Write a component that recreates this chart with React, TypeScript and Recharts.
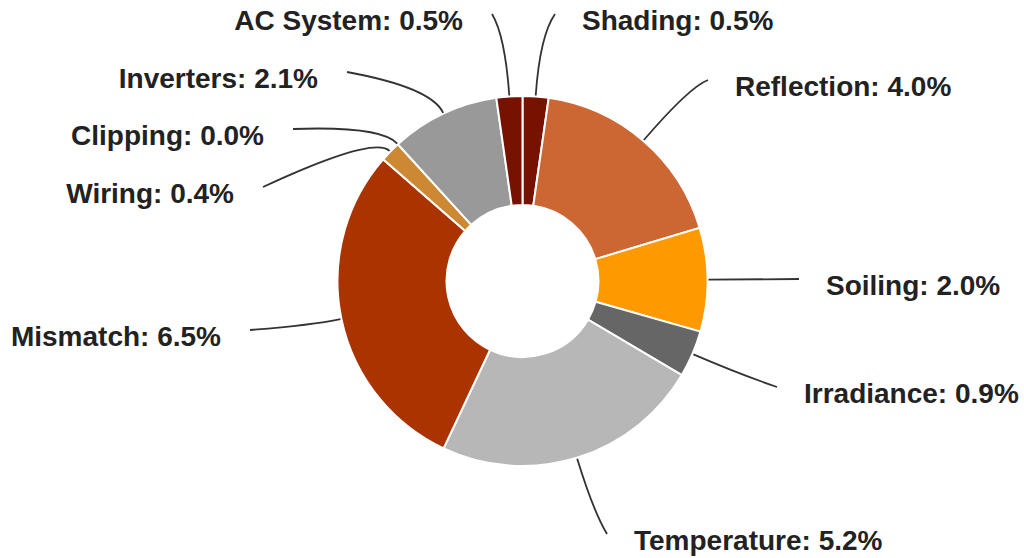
import { PieChart, Pie, Cell } from "recharts";

// Loss breakdown, clockwise from 12 o'clock
const CATEGORIES = [
  "Shading",
  "Reflection",
  "Soiling",
  "Irradiance",
  "Temperature",
  "Mismatch",
  "Wiring",
  "Clipping",
  "Inverters",
  "AC System",
];
const LOSSES = [0.5, 4.0, 2.0, 0.9, 5.2, 6.5, 0.4, 0.0, 2.1, 0.5];

const SLICE_COLORS = [
  "#771100",
  "#cc6633",
  "#ff9900",
  "#666666",
  "#b7b7b7",
  "#aa3300",
  "#cc8833",
  "#e69138",
  "#999999",
  "#771100",
];

// Where each leader line ends (relative to the pie centre) and how far it
// runs out radially before bending towards its label.
const LABEL_LAYOUT = [
  { ex: 32.5, ey: -267, bend: 60 },
  { ex: 185.5, ey: -201, bend: 70 },
  { ex: 276.5, ey: -2, bend: 40 },
  { ex: 254.5, ey: 106, bend: 50 },
  { ex: 84.5, ey: 253, bend: 55 },
  { ex: -272.5, ey: 49, bend: 30 },
  { ex: -259.5, ey: -94, bend: 22 },
  { ex: -229.5, ey: -152, bend: 24 },
  { ex: -175.5, ey: -209, bend: 28 },
  { ex: -30.5, ey: -267, bend: 60 },
];

const data = CATEGORIES.map((name, i) => ({ name, value: LOSSES[i] }));

const RAD = Math.PI / 180;

function renderLabel(props: any) {
  const { cx, cy, midAngle, outerRadius, index, name, value } = props;
  const layout = LABEL_LAYOUT[index];
  if (!layout) return null;
  const dx = Math.cos(-midAngle * RAD);
  const dy = Math.sin(-midAngle * RAD);
  const sx = cx + (outerRadius + 1) * dx;
  const sy = cy + (outerRadius + 1) * dy;
  const qx = sx + layout.bend * dx;
  const qy = sy + layout.bend * dy;
  const ex = cx + layout.ex;
  const ey = cy + layout.ey;
  const right = layout.ex >= 0;
  return (
    <g key={`label-${index}`}>
      <path
        d={`M${sx},${sy} Q${qx},${qy} ${ex},${ey}`}
        fill="none"
        stroke="#333"
        strokeWidth={1.8}
      />
      <text
        x={right ? ex + 27 : ex - 29}
        y={ey + 6}
        textAnchor={right ? "start" : "end"}
        dominantBaseline="central"
        fontFamily="'Liberation Sans', Arial, sans-serif"
        fontWeight="bold"
        fontSize={28}
        fill="#222"
      >
        {`${name}: ${Number(value).toFixed(1)}%`}
      </text>
    </g>
  );
}

export default function App() {
  return (
    <div style={{ position: "absolute", left: 0, top: 0, background: "#fff" }}>
      <PieChart
        width={1024}
        height={558}
        margin={{ top: 0, right: 0, bottom: 0, left: 0 }}
      >
        <Pie
          data={data}
          dataKey="value"
          nameKey="name"
          cx={522.5}
          cy={281}
          innerRadius={76}
          outerRadius={185}
          startAngle={90}
          endAngle={-270}
          stroke="#fff"
          strokeWidth={2}
          label={renderLabel}
          labelLine={false}
          isAnimationActive={false}
        >
          {data.map((_, i) => (
            <Cell key={i} fill={SLICE_COLORS[i]} />
          ))}
        </Pie>
      </PieChart>
    </div>
  );
}
